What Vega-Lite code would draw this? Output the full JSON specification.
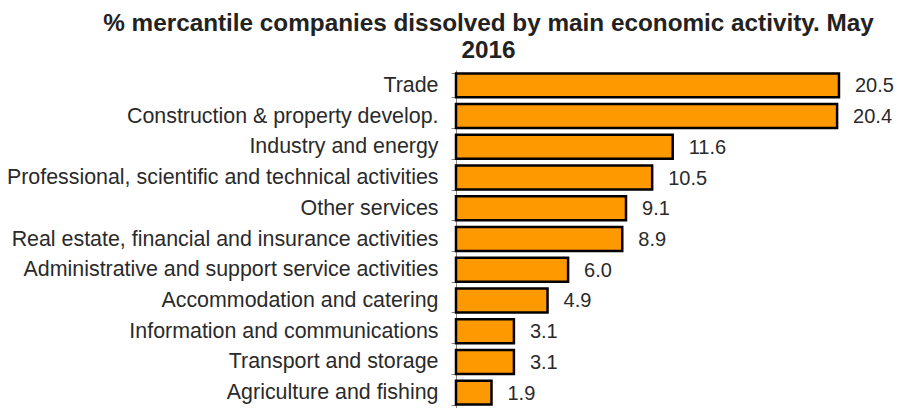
{
  "$schema": "https://vega.github.io/schema/vega-lite/v6.json",
  "autosize": "none",
  "padding": {"left": 456, "top": 70, "right": 31, "bottom": 0},
  "width": 411,
  "height": 338,
  "background": "white",
  "title": {
    "text": ["% mercantile companies  dissolved by main economic activity. May", "2016"],
    "font": "Liberation Sans",
    "fontSize": 24.3,
    "fontWeight": "bold",
    "color": "#222222",
    "lineHeight": 27,
    "anchor": "middle",
    "frame": "group",
    "dx": -173,
    "offset": -4
  },
  "data": {
    "values": [
      {"activity": "Trade", "pct": 20.5},
      {"activity": "Construction & property develop.", "pct": 20.4},
      {"activity": "Industry and energy", "pct": 11.6},
      {"activity": "Professional, scientific and technical activities", "pct": 10.5},
      {"activity": "Other services", "pct": 9.1},
      {"activity": "Real estate, financial and insurance activities", "pct": 8.9},
      {"activity": "Administrative and support service activities", "pct": 6.0},
      {"activity": "Accommodation and catering", "pct": 4.9},
      {"activity": "Information and communications", "pct": 3.1},
      {"activity": "Transport and storage", "pct": 3.1},
      {"activity": "Agriculture and fishing", "pct": 1.9}
    ]
  },
  "encoding": {
    "y": {
      "field": "activity",
      "type": "nominal",
      "sort": null,
      "scale": {"paddingInner": 0.22, "paddingOuter": 0.11},
      "axis": {
        "title": null,
        "labelFont": "Liberation Sans",
        "labelFontSize": 21.4,
        "labelColor": "#2a2a2a",
        "labelPadding": 13,
        "labelLimit": 500,
        "tickBand": "extent",
        "tickSize": 5,
        "tickColor": "#888888",
        "domainColor": "#888888",
        "grid": false
      }
    },
    "x": {
      "field": "pct",
      "type": "quantitative",
      "scale": {"domain": [0, 22], "nice": false},
      "axis": null
    }
  },
  "layer": [
    {
      "mark": {"type": "bar", "color": "#FF9900", "stroke": "#000000", "strokeWidth": 2.5}
    },
    {
      "mark": {"type": "text", "align": "left", "baseline": "middle", "dx": 16, "dy": 1, "font": "Liberation Sans", "fontSize": 20, "color": "#2a2a2a"},
      "encoding": {
        "text": {"field": "pct", "type": "quantitative", "format": ".1f"}
      }
    }
  ],
  "config": {"view": {"stroke": null}}
}
